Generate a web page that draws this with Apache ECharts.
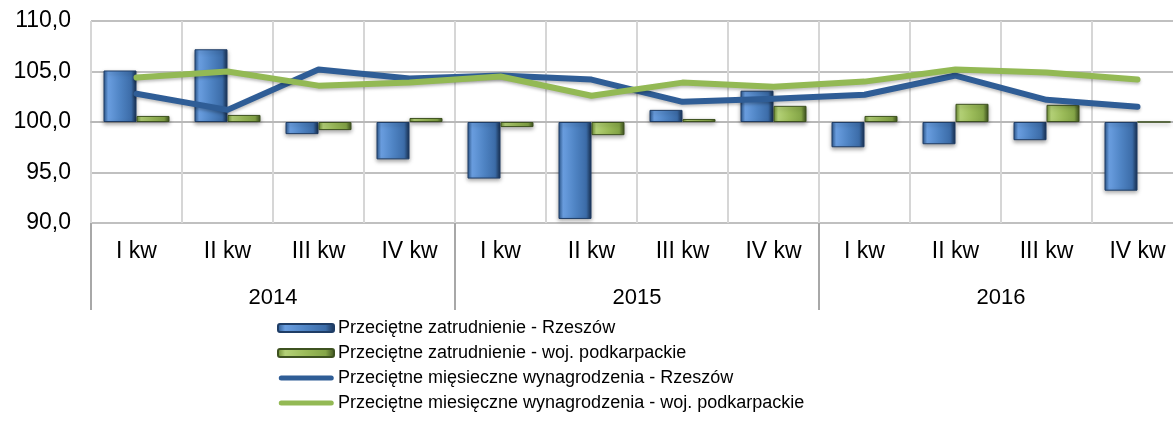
<!DOCTYPE html>
<html>
<head>
<meta charset="utf-8">
<script src="https://cdn.jsdelivr.net/npm/echarts@6/dist/echarts.min.js"></script>
<style>
  html, body { margin: 0; padding: 0; background: #ffffff; }
  #chart { width: 1173px; height: 423px; }
</style>
</head>
<body>
<div id="chart"></div>
<script>
// ---- data ----
var quarters = ['I kw', 'II kw', 'III kw', 'IV kw', 'I kw', 'II kw', 'III kw', 'IV kw', 'I kw', 'II kw', 'III kw', 'IV kw'];
var years = ['2014', '2015', '2016'];
var zatrRzeszow = [105.1, 107.2, 98.8, 96.3, 94.4, 90.4, 101.2, 103.1, 97.5, 97.8, 98.2, 93.2];
var zatrPodkarpackie = [100.6, 100.7, 99.2, 100.4, 99.5, 98.7, 100.3, 101.6, 100.6, 101.8, 101.7, 100.0];
var wynRzeszow = [102.8, 101.2, 105.2, 104.3, 104.6, 104.2, 102.0, 102.3, 102.7, 104.6, 102.2, 101.5];
var wynPodkarpackie = [104.4, 105.0, 103.6, 103.9, 104.5, 102.6, 103.9, 103.5, 104.0, 105.2, 104.9, 104.2];
var yTicks = [90, 95, 100, 105, 110];
var baseLevel = 100;

var seriesNames = [
  'Przeciętne zatrudnienie - Rzeszów',
  'Przeciętne zatrudnienie - woj. podkarpackie',
  'Przeciętne mięsieczne wynagrodzenia - Rzeszów',
  'Przeciętne miesięczne wynagrodzenia - woj. podkarpackie'
];

function rel(arr) { return arr.map(function (v) { return +(v - baseLevel).toFixed(2); }); }

var FONT = 'Liberation Sans, Arial, sans-serif';
var BLUE_LINE = '#2f5d96';
var GREEN_LINE = '#93b954';

var blueBar = new echarts.graphic.LinearGradient(0, 0, 1, 0, [
  { offset: 0, color: '#2a568c' },
  { offset: 0.14, color: '#6a9ee0' },
  { offset: 0.5, color: '#4f84c4' },
  { offset: 0.84, color: '#3c6ca8' },
  { offset: 1, color: '#172f50' }
]);
var greenBar = new echarts.graphic.LinearGradient(0, 0, 1, 0, [
  { offset: 0, color: '#6a8a30' },
  { offset: 0.14, color: '#b4d177' },
  { offset: 0.5, color: '#9bbb59' },
  { offset: 0.84, color: '#84a547' },
  { offset: 1, color: '#3c4f1e' }
]);

// thick line legend icon with round caps, vertically centred in an 8px box
var lineIcon = 'path://M0,0 M0,8 M3,1.5 L53,1.5 A2.5,2.5 0 0 1 53,6.5 L3,6.5 A2.5,2.5 0 0 1 3,1.5 Z';

var chart = echarts.init(document.getElementById('chart'), null, { renderer: 'canvas' });

var option = {
  animation: false,
  backgroundColor: '#ffffff',
  grid: { left: 91, width: 1092, top: 21, height: 202, containLabel: false, outerBoundsMode: 'none' },
  legend: {
    orient: 'vertical',
    left: 277,
    top: 319,
    padding: 0,
    itemWidth: 56,
    itemHeight: 8,
    itemGap: 7,
    textStyle: { fontFamily: FONT, fontSize: 18, color: '#000000', padding: [0, 0, 0, -1] },
    data: [
      { name: seriesNames[0] },
      { name: seriesNames[1] },
      { name: seriesNames[2], icon: lineIcon, itemStyle: { color: BLUE_LINE } },
      { name: seriesNames[3], icon: lineIcon, itemStyle: { color: GREEN_LINE } }
    ]
  },
  xAxis: [
    {
      type: 'category',
      data: quarters,
      position: 'bottom',
      boundaryGap: true,
      axisLine: { show: true, lineStyle: { color: '#b8b8b8', width: 2 } },
      axisTick: { show: false },
      axisLabel: { interval: 0, margin: 17, fontFamily: FONT, fontSize: 23, color: '#000000' },
      splitLine: { show: true, interval: 0, lineStyle: { color: '#d6d6d6', width: 2 } }
    },
    {
      type: 'category',
      data: years,
      position: 'bottom',
      boundaryGap: true,
      axisLine: { show: false },
      axisTick: { show: true, interval: 0, length: 87, lineStyle: { color: '#a8a8a8', width: 2 } },
      axisLabel: { interval: 0, margin: 64, fontFamily: FONT, fontSize: 22, color: '#000000' },
      splitLine: { show: false }
    }
  ],
  yAxis: {
    type: 'value',
    min: yTicks[0] - baseLevel,
    max: yTicks[yTicks.length - 1] - baseLevel,
    interval: yTicks[1] - yTicks[0],
    axisLine: { show: false },
    axisTick: { show: false },
    axisLabel: {
      margin: 20,
      fontFamily: FONT,
      fontSize: 23,
      color: '#000000',
      formatter: function (v) { return (v + baseLevel).toFixed(1).replace('.', ','); }
    },
    splitLine: { show: true, lineStyle: { color: ['#c0c0c0', '#c0c0c0', '#a6a6a6', '#c0c0c0', '#c0c0c0'], width: 2 } }
  },
  series: [
    {
      name: seriesNames[0],
      type: 'bar',
      xAxisIndex: 0,
      data: rel(zatrRzeszow),
      barWidth: 33,
      barGap: '0%',
      itemStyle: {
        color: blueBar,
        borderColor: '#1f3d66',
        borderWidth: 1,
        shadowBlur: 4,
        shadowOffsetY: 2,
        shadowColor: 'rgba(0,0,0,0.35)'
      }
    },
    {
      name: seriesNames[1],
      type: 'bar',
      xAxisIndex: 0,
      data: rel(zatrPodkarpackie),
      barWidth: 33,
      barGap: '0%',
      itemStyle: {
        color: greenBar,
        borderColor: '#3e5220',
        borderWidth: 1,
        shadowBlur: 4,
        shadowOffsetY: 2,
        shadowColor: 'rgba(0,0,0,0.35)'
      }
    },
    {
      name: seriesNames[2],
      type: 'line',
      xAxisIndex: 0,
      data: rel(wynRzeszow),
      symbol: 'none',
      smooth: false,
      color: BLUE_LINE,
      lineStyle: { color: BLUE_LINE, width: 6, cap: 'round', join: 'round',
        shadowBlur: 3, shadowOffsetY: 2, shadowColor: 'rgba(0,0,0,0.25)' },
      z: 3
    },
    {
      name: seriesNames[3],
      type: 'line',
      xAxisIndex: 0,
      data: rel(wynPodkarpackie),
      symbol: 'none',
      smooth: false,
      color: GREEN_LINE,
      lineStyle: { color: GREEN_LINE, width: 6, cap: 'round', join: 'round',
        shadowBlur: 3, shadowOffsetY: 2, shadowColor: 'rgba(0,0,0,0.25)' },
      z: 4
    }
  ]
};

chart.setOption(option);
</script>
</body>
</html>
